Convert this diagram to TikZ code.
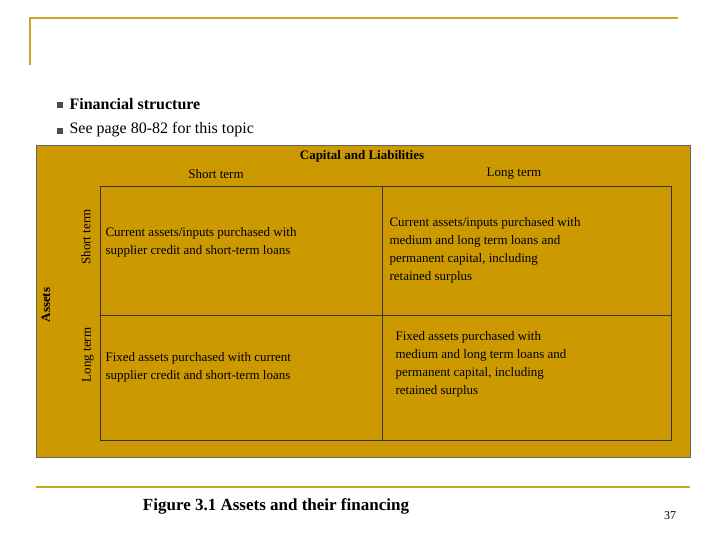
\documentclass[tikz,border=0pt]{standalone}
\usepackage{fontspec}
\setmainfont{Liberation Serif}
\definecolor{gold}{HTML}{CC9900}
\definecolor{rule}{HTML}{C8A820}
\tikzset{
  cell/.style={font=\fontsize{13}{18}\selectfont, align=left, anchor=west},
  head/.style={font=\fontsize{13}{15}\selectfont},
  bullet/.style={fill=black!70, minimum size=6pt, inner sep=0pt},
  btext/.style={font=\bfseries\fontsize{16}{18}\selectfont, anchor=west}
}
\begin{document}
\begin{tikzpicture}[x=1pt, y=-1pt]
\useasboundingbox (0,0) rectangle (720,540);
% frame lines
\draw[rule, line width=2.5pt] (30,65) -- (30,18) -- (678,18);
\draw[rule, line width=2.5pt] (36,487) -- (690,487);

% bullets
\node[bullet] (b1) at (60,105) {};
\node[bullet] (b2) at (60,131) {};
\node[btext] (t1) at (66,104) {Financial structure};
\node[btext, font=\fontsize{16}{18}\selectfont] (t2) at (66,130) {See page 80-82 for this topic};

% table
\draw[black!60, fill=gold] (36,145) rectangle (690,457);
\draw[black!80] (100,186) rectangle (671,440);
\draw[black!80] (100,315) -- (671,315);
\draw[black!80] (382,186) -- (382,440);

\node[head, font=\bfseries\fontsize{13}{15}\selectfont] (cap) at (362,156) {Capital and Liabilities};
\node[head] (cs) at (216,174) {Short term};
\node[head] (cl) at (514,174) {Long term};
\node[head, font=\bfseries\fontsize{13}{15}\selectfont, rotate=90] (as) at (46,305) {Assets};
\node[head, rotate=90] (rs) at (86,237) {Short term};
\node[head, rotate=90] (rl) at (88,355) {Long term};

\node[cell] (c11) at (102,242) {Current assets/inputs purchased with\\supplier credit and short-term loans};
\node[cell] (c12) at (386,250) {Current assets/inputs purchased with\\medium and long term loans and\\permanent capital, including\\retained surplus};
\node[cell] (c21) at (102,367) {Fixed assets purchased with current\\supplier credit and short-term loans};
\node[cell] (c22) at (392,364) {Fixed assets purchased with\\medium and long term loans and\\permanent capital, including\\retained surplus};

\node[font=\bfseries\fontsize{17}{19}\selectfont] (fig) at (276,506) {Figure 3.1 Assets and their financing};
\node[font=\fontsize{12}{14}\selectfont] (pg) at (670,516) {37};
\end{tikzpicture}
\end{document}
